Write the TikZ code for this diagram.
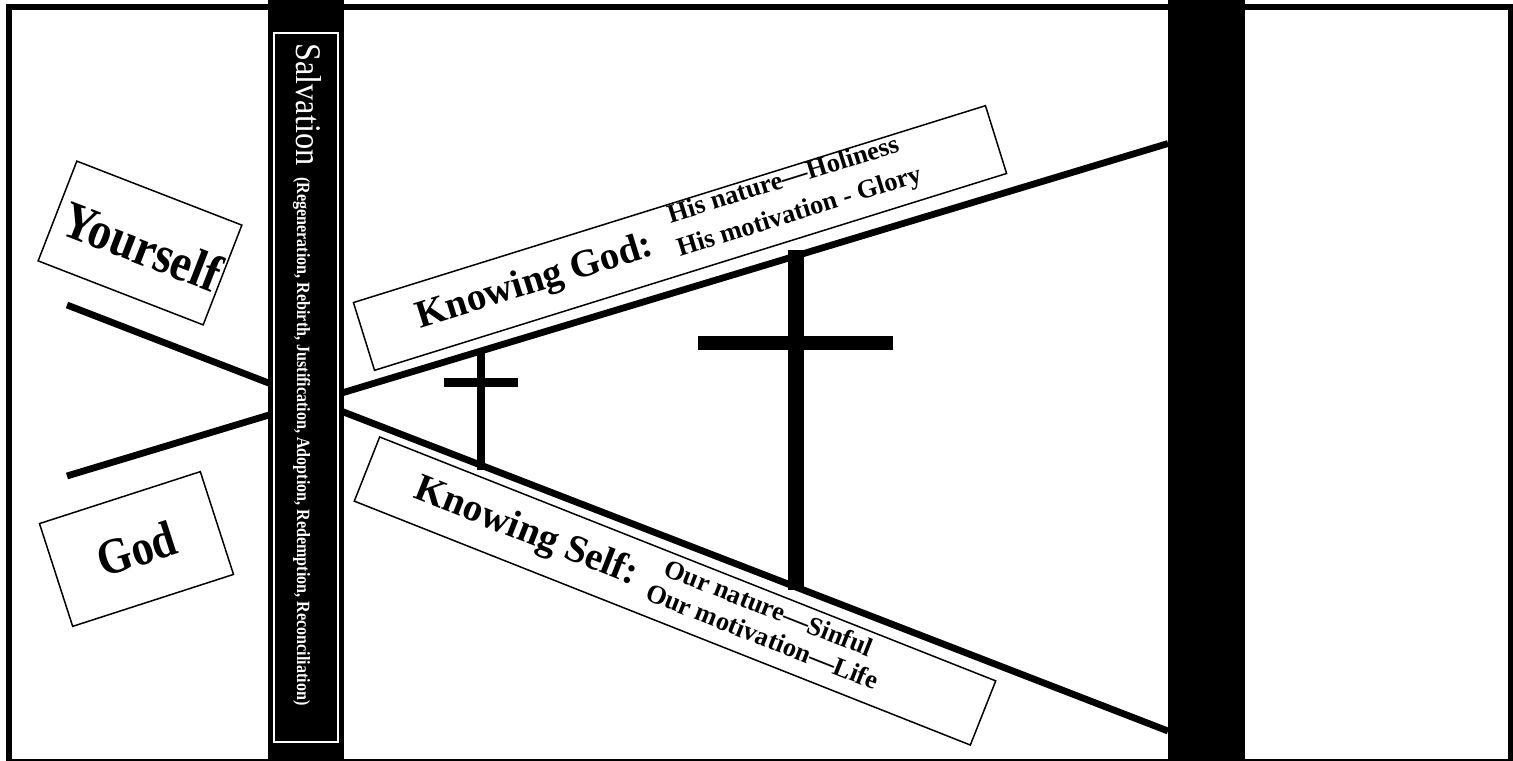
\documentclass[tikz,border=0pt]{standalone}
\usepackage{fontspec}
\setmainfont{Liberation Serif}
\usepackage{graphicx}
\begin{document}
\begin{tikzpicture}[x=0.5pt,y=-0.5pt,
  tbox/.style={draw, line width=0.75pt, inner sep=0pt, transform shape},
  bigtxt/.style={font=\bfseries\fontsize{19.5}{22}\selectfont, inner sep=0pt, anchor=base west, transform shape},
  smalltxt/.style={font=\bfseries\fontsize{13.2}{14}\selectfont, inner sep=0pt, anchor=base west, transform shape},
  labeltxt/.style={font=\bfseries\fontsize{22}{24}\selectfont, inner sep=0pt, transform shape},
  heavy/.style={line width=3.4pt},
  salvtxt/.style={text=white, rotate=-90, anchor=base west, inner sep=0pt}
]
\useasboundingbox (0,0) rectangle (1513,760);
\begin{scope}
\clip (0,0) rectangle (1513,760);
\draw[line width=3pt] (9,7) rectangle (1510.5,762);
\end{scope}

% the two long lines
\coordinate (a1) at (67,305);
\coordinate (a2) at (1168,731);
\coordinate (b1) at (67,476);
\coordinate (b2) at (1168,143.5);
\draw[heavy] (a1) -- (a2);
\draw[heavy] (b1) -- (b2);

% black bars
\fill (268,0) rectangle (344,760);
\fill (1168,0) rectangle (1245,760);
\draw[white, line width=0.6pt] (274,33) rectangle (338,742);

\node[salvtxt] (salv) at (296,43) {\resizebox{61pt}{12.5pt}{Salvation}};
\node[salvtxt] (salvsub) at (297,177) {\resizebox{264pt}{6.6pt}{\bfseries (Regeneration, Rebirth, Justification, Adoption, Redemption, Reconciliation)}};

% crosses
\fill (477,350) rectangle (485,470);
\fill (444,378) rectangle (518,387);
\fill (788,250) rectangle (804,590);
\fill (698,336) rectangle (893,350);

% Knowing God box
\begin{scope}[shift={(680,238)}, rotate=17.3]
\node[tbox, minimum width=331pt, minimum height=35.5pt] (godbox) at (0,0) {};
\node[bigtxt] (kgod) at (-275,9) {Knowing God:};
\node[smalltxt] (hisnat) at (-5,-17) {His nature—Holiness};
\node[smalltxt] (hismot) at (-6,18) {His motivation - Glory};
\end{scope}

% Knowing Self box
\begin{scope}[shift={(675,591)}, rotate=-21.6]
\node[tbox, minimum width=331.3pt, minimum height=34.5pt] (selfbox) at (0,0) {};
\node[bigtxt] (kself) at (-279,10) {Knowing Self:};
\node[smalltxt] (ournat) at (-18,-10) {Our nature—Sinful};
\node[smalltxt] (ourmot) at (-26,19) {Our motivation—Life};
\end{scope}

% Yourself box
\begin{scope}[shift={(140,243)}, rotate=-21.2]
\node[tbox, minimum width=88.5pt, minimum height=53.5pt] (ybox) at (0,0) {};
\node[labeltxt] (yourself) at (3,2) {\scalebox{1.06}[1.2]{Yourself}};
\end{scope}

% God box
\begin{scope}[shift={(136.5,549)}, rotate=17.9]
\node[tbox, minimum width=84.5pt, minimum height=54pt] (gbox) at (0,0) {};
\node[labeltxt] (god) at (0,0) {\scalebox{1}[1.15]{God}};
\end{scope}
\end{tikzpicture}
\end{document}
